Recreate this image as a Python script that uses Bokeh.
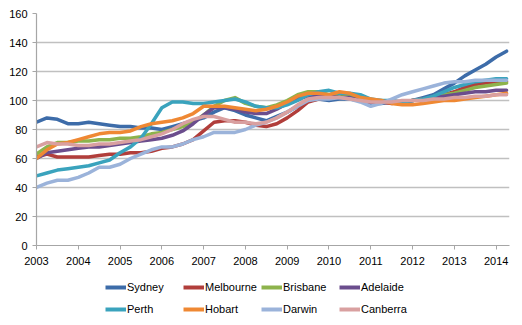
from bokeh.plotting import figure
from bokeh.models import Range1d, Legend, LegendItem, FixedTicker
from bokeh.layouts import column
from bokeh.embed import file_html
from bokeh.resources import INLINE

years = [2003 + i / 4 for i in range(46)]
year_ticks = list(range(2003, 2015))
y_ticks = [0, 20, 40, 60, 80, 100, 120, 140, 160]

sydney = [85, 88, 87, 84, 84, 85, 84, 83, 82, 82, 81, 81, 80, 82, 84, 86,
          88, 92, 95, 93, 90, 88, 86, 89, 92, 96, 100, 101, 100, 101, 101, 100,
          98, 98, 99, 99, 100, 102, 104, 108, 112, 117, 121, 125, 130, 134]
melbourne = [61, 63, 61, 61, 61, 61, 62, 63, 63, 64, 64, 65, 67, 68, 70, 73,
             79, 85, 86, 86, 85, 83, 82, 84, 88, 93, 99, 101, 102, 103, 102, 100,
             99, 99, 98, 99, 100, 101, 102, 104, 106, 109, 111, 112, 113, 113]
brisbane = [63, 68, 71, 71, 72, 72, 73, 73, 74, 74, 75, 77, 78, 80, 82, 85,
            90, 96, 100, 102, 98, 96, 95, 97, 100, 104, 106, 106, 104, 104, 103, 101,
            100, 100, 99, 99, 100, 101, 102, 104, 105, 107, 109, 110, 111, 112]
adelaide = [60, 64, 65, 66, 67, 68, 68, 69, 70, 71, 72, 73, 74, 76, 79, 84,
            90, 95, 95, 94, 92, 91, 91, 94, 98, 101, 103, 104, 103, 102, 102, 100,
            99, 99, 99, 99, 100, 101, 102, 103, 104, 105, 106, 106, 107, 107]
perth = [48, 50, 52, 53, 54, 55, 57, 59, 64, 68, 74, 84, 95, 99, 99, 98,
         98, 99, 100, 101, 99, 96, 95, 95, 97, 100, 104, 106, 107, 105, 105, 104,
         101, 100, 100, 99, 100, 101, 103, 106, 109, 111, 113, 114, 115, 115]
hobart = [60, 66, 70, 71, 73, 75, 77, 78, 78, 79, 82, 84, 85, 86, 88, 91,
          96, 96, 96, 95, 94, 93, 94, 96, 99, 103, 105, 105, 104, 106, 105, 102,
          101, 100, 98, 97, 97, 98, 99, 100, 100, 101, 102, 103, 104, 105]
darwin = [40, 43, 45, 45, 47, 50, 54, 54, 56, 60, 63, 66, 68, 68, 70, 73,
          75, 78, 78, 78, 80, 83, 85, 88, 92, 96, 100, 101, 101, 102, 101, 99,
          96, 98, 101, 104, 106, 108, 110, 112, 113, 113, 114, 114, 114, 114]
canberra = [68, 71, 70, 70, 69, 69, 70, 70, 71, 72, 73, 75, 77, 80, 84, 87,
            89, 89, 87, 85, 85, 84, 85, 88, 92, 97, 101, 102, 102, 102, 101, 100,
            99, 99, 99, 100, 100, 100, 101, 101, 102, 102, 103, 103, 104, 104]

series = [
    ("Sydney", sydney, "#3D6CA9"),
    ("Melbourne", melbourne, "#B13E3B"),
    ("Brisbane", brisbane, "#8DB34C"),
    ("Adelaide", adelaide, "#6B4D8D"),
    ("Perth", perth, "#3AA3BD"),
    ("Hobart", hobart, "#EF8833"),
    ("Darwin", darwin, "#9BB3DA"),
    ("Canberra", canberra, "#D9A0A0"),
]

FONT = "Liberation Sans"

p = figure(width=522, height=270, output_backend="svg", toolbar_location=None,
           x_range=Range1d(2003, 2014.32), y_range=Range1d(0, 160),
           min_border_left=36, min_border_right=13, min_border_top=13,
           min_border_bottom=25)
p.outline_line_color = None
p.background_fill_color = "white"
p.border_fill_color = "white"

# legend-only figure below the chart (its ranges keep the series off-screen)
q = figure(width=522, height=55, output_backend="svg", toolbar_location=None,
           x_range=Range1d(0, 1), y_range=Range1d(0, 1),
           x_axis_location=None, y_axis_location=None,
           min_border_left=0, min_border_right=0, min_border_top=0,
           min_border_bottom=0)
q.grid.visible = False
q.outline_line_color = None
q.border_fill_color = "white"
q.background_fill_color = "white"

items = []
for name, vals, col in series:
    p.line(years, vals, line_color=col, line_width=3.5, line_join="round",
           line_cap="round")
    r = q.line(years, vals, line_color=col, line_width=4)
    items.append(LegendItem(label=name, renderers=[r]))

p.xaxis.ticker = FixedTicker(ticks=year_ticks)
p.yaxis.ticker = FixedTicker(ticks=y_ticks)
p.xgrid.grid_line_color = None
p.ygrid.grid_line_color = "#C0C0C0"
p.ygrid.grid_line_width = 1.5

for ax in (p.xaxis[0], p.yaxis[0]):
    ax.axis_line_color = "#A6A6A6"
    ax.axis_line_width = 1.2
    ax.major_tick_line_color = "#A6A6A6"
    ax.major_tick_out = 4
    ax.major_tick_in = 0
    ax.minor_tick_line_color = None
    ax.major_label_text_font = FONT
    ax.major_label_text_font_size = "11px"
    ax.major_label_text_color = "#000000"
p.xaxis.major_label_standoff = 7
p.yaxis.major_label_standoff = 5

legend = Legend(items=items, orientation="horizontal", ncols=4,
                location=(69, 6), glyph_width=21, glyph_height=20,
                label_height=20, label_width=54, label_standoff=1, spacing=2,
                padding=0, margin=0, border_line_color=None,
                background_fill_alpha=0,
                label_text_font=FONT, label_text_font_size="11px",
                label_text_color="#000000")
q.add_layout(legend, "center")

layout = column(p, q, spacing=0)
open("out.html", "w").write(file_html(layout, INLINE))
